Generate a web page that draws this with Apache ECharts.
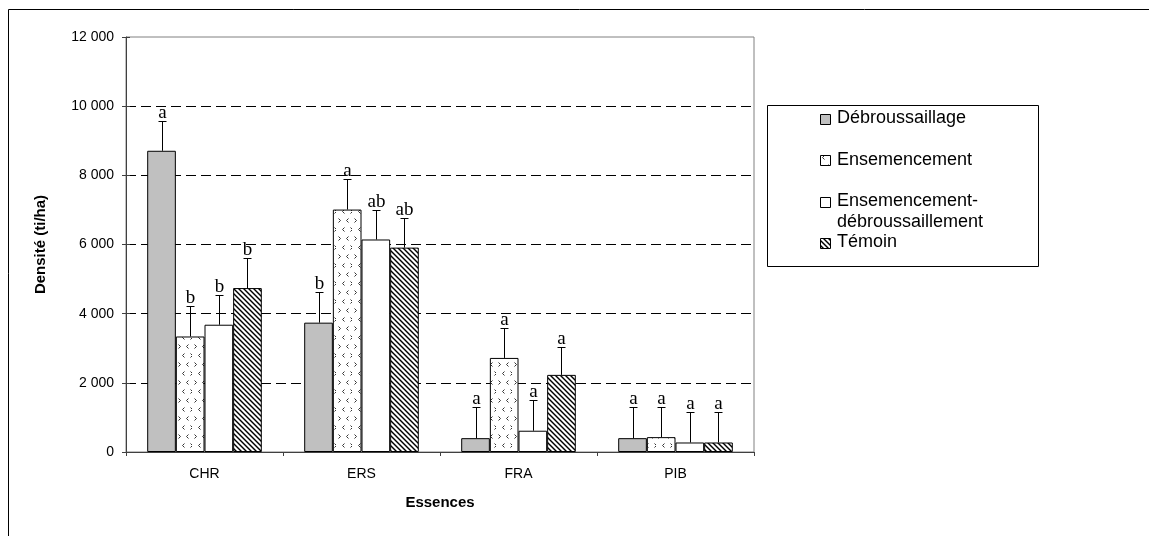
<!DOCTYPE html>
<html>
<head>
<meta charset="utf-8">
<script src="https://cdn.jsdelivr.net/npm/echarts@6/dist/echarts.min.js"></script>
<style>
  html, body { margin: 0; padding: 0; background: #fff; }
  #chart { width: 1149px; height: 536px; }
</style>
</head>
<body>
<div id="chart"></div>
<script>
// Essences (x categories)
const categories = ['CHR', 'ERS', 'FRA', 'PIB'];
// Treatments
const seriesNames = ['Débroussaillage', 'Ensemencement', 'Ensemencement-débroussaillement', 'Témoin'];

// Mean density (ti/ha) per essence
const debroussaillage      = [8710, 3740, 400, 400];
const ensemencement        = [3340, 7010, 2720, 430];
const ensDebroussaillement = [3680, 6145, 615, 275];
const temoin               = [4740, 5910, 2230, 275];

// Error (upper bar length, ti/ha)
const errDebroussaillage      = [875, 890, 900, 900];
const errEnsemencement        = [880, 880, 870, 870];
const errEnsDebroussaillement = [860, 865, 875, 875];
const errTemoin               = [880, 870, 820, 875];

// Significance letters
const lettersDebroussaillage      = ['a', 'b', 'a', 'a'];
const lettersEnsemencement        = ['b', 'a', 'a', 'a'];
const lettersEnsDebroussaillement = ['b', 'ab', 'a', 'a'];
const lettersTemoin               = ['b', 'ab', 'a', 'a'];

// Y axis ticks
const yMin = 0, yMax = 12000, yStep = 2000;

const values  = [debroussaillage, ensemencement, ensDebroussaillement, temoin];
const errors  = [errDebroussaillage, errEnsemencement, errEnsDebroussaillement, errTemoin];
const letters = [lettersDebroussaillage, lettersEnsemencement, lettersEnsDebroussaillement, lettersTemoin];

const CAT_GAP = 0.27;
const SANS = '"Liberation Sans", Arial, sans-serif';

function fmtThousands(v) {
  return String(v).replace(/\B(?=(\d{3})+(?!\d))/g, ' ');
}

// Fill patterns
function seedPattern() {
  const c = document.createElement('canvas');
  c.width = 16; c.height = 18;
  const g = c.getContext('2d');
  g.fillStyle = '#fff'; g.fillRect(0, 0, 16, 18);
  g.strokeStyle = '#333'; g.lineWidth = 1;
  function gt(x, y) { g.beginPath(); g.moveTo(x, y); g.lineTo(x + 2, y + 2); g.lineTo(x, y + 4); g.stroke(); }
  function lt(x, y) { g.beginPath(); g.moveTo(x + 2, y); g.lineTo(x, y + 2); g.lineTo(x + 2, y + 4); g.stroke(); }
  gt(2.5, 2.5); lt(10.5, 2.5);
  lt(6.5, 11.5); gt(14.5, 11.5);
  return { image: c, repeat: 'repeat' };
}
function hatchPattern() {
  const c = document.createElement('canvas');
  c.width = 5; c.height = 5;
  const g = c.getContext('2d');
  g.fillStyle = '#fff'; g.fillRect(0, 0, 5, 5);
  g.strokeStyle = '#000'; g.lineWidth = 1.4;
  for (let k = -1; k <= 1; k++) {
    g.beginPath(); g.moveTo(k * 5 - 1, -1); g.lineTo(k * 5 + 6, 6); g.stroke();
  }
  return { image: c, repeat: 'repeat' };
}
const fills = ['#c0c0c0', seedPattern(), '#ffffff', hatchPattern()];

const barSeries = seriesNames.map((name, si) => ({
  name: name,
  type: 'bar',
  barGap: '0%',
  barCategoryGap: (CAT_GAP * 100) + '%',
  itemStyle: { color: fills[si], borderColor: '#000', borderWidth: 1 },
  emphasis: { disabled: true },
  data: values[si],
  z: 2
}));

// Upper error bars with the significance letter above each cap
const errSeries = seriesNames.map((name, si) => ({
  type: 'custom',
  silent: true,
  z: 3,
  data: values[si].map((v, i) => [i, v, errors[si][i]]),
  renderItem: function (params, api) {
    const idx = api.value(0);
    const v = api.value(1);
    const e = api.value(2);
    const band = api.size([1, 0])[0];
    const barW = band * (1 - CAT_GAP) / 4;
    const base = api.coord([idx, v]);
    const top = api.coord([idx, v + e]);
    const x = Math.round(base[0] + (si - 1.5) * barW) + 0.5;
    const yTop = Math.round(top[1]) + 0.5;
    return {
      type: 'group',
      children: [
        { type: 'line', shape: { x1: x, y1: base[1], x2: x, y2: yTop }, style: { stroke: '#000', lineWidth: 1 } },
        { type: 'line', shape: { x1: x - 4, y1: yTop, x2: x + 4, y2: yTop }, style: { stroke: '#000', lineWidth: 1 } },
        { type: 'text', style: { text: letters[si][idx], x: x, y: yTop + 1, align: 'center', verticalAlign: 'bottom',
            font: '19px "Liberation Serif", "Times New Roman", serif', fill: '#000' } }
      ]
    };
  }
}));

// Legend drawn as a framed key box
const legendLeft = 767.5, legendTop = 105.5;
const legendRows = [
  { icon: 0, lines: [{ t: 'Débroussaillage', y: 118.5 }] },
  { icon: 1, lines: [{ t: 'Ensemencement', y: 160 }] },
  { icon: 2, lines: [{ t: 'Ensemencement-', y: 201.5 }, { t: 'débroussaillement', y: 222 }] },
  { icon: 3, lines: [{ t: 'Témoin', y: 242.5 }] }
];
const legendGraphics = [
  { type: 'rect', shape: { x: legendLeft, y: legendTop, width: 271, height: 161 },
    style: { fill: '#fff', stroke: '#000', lineWidth: 1 }, z: 10 }
];
legendRows.forEach(r => {
  const y0 = r.lines[0].y;
  legendGraphics.push({ type: 'rect', shape: { x: 820.5, y: Math.round(y0 - 5) + 0.5, width: 10, height: 10 },
    style: { fill: fills[r.icon], stroke: '#000', lineWidth: 1 }, z: 11 });
  r.lines.forEach(l => {
    legendGraphics.push({ type: 'text', x: 837, y: l.y,
      style: { text: l.t, font: '18px ' + SANS, fill: '#000', verticalAlign: 'middle' }, z: 11 });
  });
});

const chart = echarts.init(document.getElementById('chart'), null, { renderer: 'canvas' });
chart.setOption({
  animation: false,
  backgroundColor: '#fff',
  grid: { left: 126, top: 37, width: 628, height: 415, show: true, borderColor: '#808080', borderWidth: 1, backgroundColor: '#fff' },
  xAxis: {
    type: 'category',
    data: categories,
    name: 'Essences',
    nameLocation: 'middle',
    nameGap: 43,
    nameTextStyle: { fontFamily: SANS, fontSize: 15, fontWeight: 'bold', color: '#000' },
    axisLine: { lineStyle: { color: '#404040', width: 1 } },
    axisTick: { show: true, length: 4, interval: 0, lineStyle: { color: '#404040' } },
    axisLabel: { margin: 15, fontFamily: SANS, fontSize: 14, color: '#000' },
    splitLine: { show: false }
  },
  yAxis: [
    {
      type: 'value',
      min: yMin, max: yMax, interval: yStep,
      name: 'Densité (ti/ha)',
      nameLocation: 'middle',
      nameGap: 78,
      nameRotate: 90,
      nameTextStyle: { fontFamily: SANS, fontSize: 15, fontWeight: 'bold', color: '#000' },
      axisLine: { show: true, lineStyle: { color: '#404040', width: 1 } },
      axisTick: { show: true, length: 4, lineStyle: { color: '#404040' } },
      axisLabel: { margin: 12, formatter: fmtThousands, fontFamily: SANS, fontSize: 14, color: '#000' },
      splitLine: { show: true, showMinLine: false, showMaxLine: false,
        lineStyle: { color: '#000', width: 1, type: [10, 5] } }
    },
    {
      type: 'value',
      position: 'left',
      min: yMin, max: yMax, interval: yStep,
      axisLine: { show: false },
      axisTick: { show: true, inside: true, length: 4, lineStyle: { color: '#404040' } },
      axisLabel: { show: false },
      splitLine: { show: false }
    }
  ],
  series: barSeries.concat(errSeries),
  graphic: [
    { type: 'rect', shape: { x: 8.5, y: 9.5, width: 1400, height: 800 },
      style: { fill: 'none', stroke: '#000', lineWidth: 1 }, z: 0, silent: true }
  ].concat(legendGraphics)
});
</script>
</body>
</html>
